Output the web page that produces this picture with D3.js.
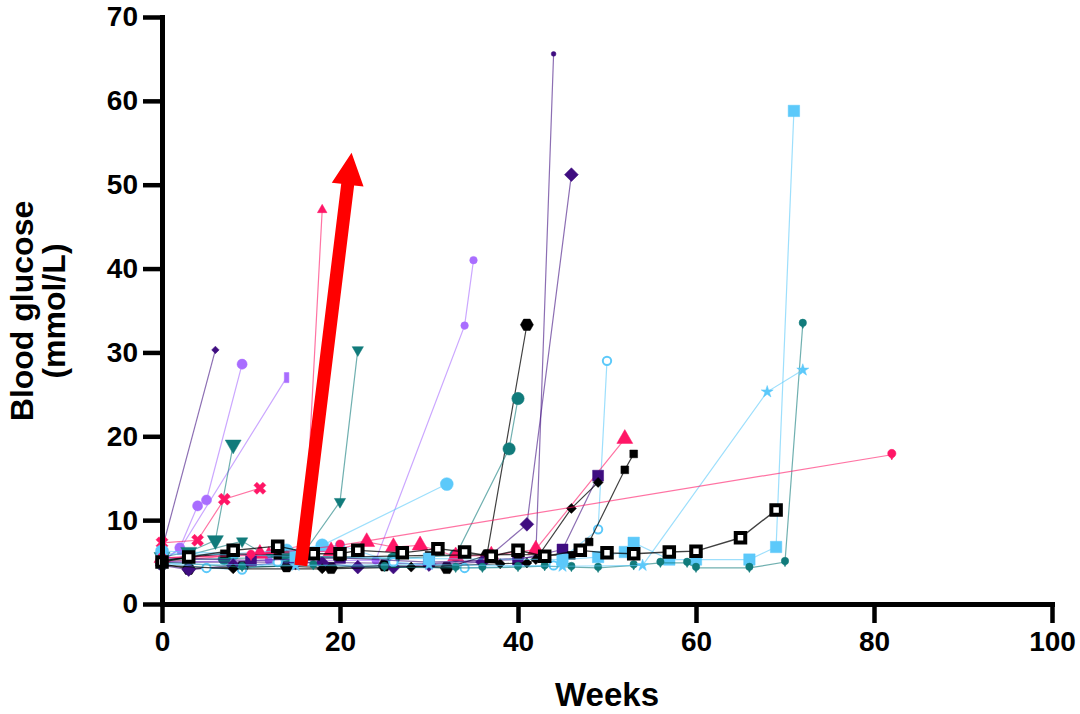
<!DOCTYPE html>
<html><head><meta charset="utf-8">
<script src="https://cdn.jsdelivr.net/npm/d3@7"></script>
<style>
body{margin:0;background:#fff}
svg{display:block}
text{font-family:"Liberation Sans",Arial,Helvetica,sans-serif;font-weight:bold;fill:#000}
</style>
</head><body>
<svg id="chart" width="1080" height="714"></svg>
<script>
// ---- axis ticks ----
const xTicks = [0, 20, 40, 60, 80, 100];
const yTicks = [0, 10, 20, 30, 40, 50, 60, 70];

// ---- series values: [week, blood glucose mmol/L] ----
const s01 = [[0,6.5],[6,30.3]];
const s02 = [[0,5.0],[2,6.7],[4,11.7],[5,12.4],[9,28.6]];
const s03 = [[0,5.2],[2,6.5],[14,27.0]];
const s04 = [[0,5.6],[3,6.2],[6,7.6],[8,19.0]];
const s05 = [[0,7.3],[4,7.6],[7,12.5],[11,13.8]];
const s06 = [[0,5.0],[8,5.8],[12,6.2],[16,7.0],[18,47.0]];
const s07 = [[0,5.0],[9,7.5],[12,5.6],[16,6.2],[20,12.2],[22,30.3]];
const s08 = [[0,5.0],[12,5.2],[24,5.2],[34,33.2],[35,41.0]];
const s09 = [[0,6.3],[8,6.0],[14,6.4],[18,7.0],[32,14.3]];
const s10 = [[0,4.8],[3,4.2],[9,4.4],[14,4.5],[19,4.3],[25,4.6],[32,4.3],[36.5,5.8],[41,33.3]];
const s11 = [[0,5.2],[7,5.4],[14,5.6],[26,5.4],[33,5.8],[39,18.5],[40,24.5]];
const s12 = [[0,5.0],[15,5.0],[30,4.8],[42,5.6],[44,65.6]];
const s13 = [[0,4.6],[3,4.1],[8,4.6],[15,4.9],[18,4.9],[22,4.4],[26,4.4],[30,4.7],[36,5.0],[41,9.5],[46,51.2]];
const s14 = [[0,4.9],[5,4.3],[9,4.1],[13,5.0],[20,7.0],[26,5.0],[34,4.3],[44,4.6],[49,8.9],[50,29.0]];
const s15 = [[0,5.5],[11,6.0],[19,6.3],[23,7.4],[26,6.8],[29,7.0],[33,5.7],[37,5.8],[42,6.5],[52,19.7]];
const s16 = [[0,5.5],[10,5.2],[20,5.5],[30,5.0],[40,5.3],[45,6.5],[49,15.3]];
const s17 = [[0,5.2],[7,6.0],[13,5.8],[20,5.6],[30,5.8],[40,5.9],[46,5.8],[48,7.4],[52,16.0],[53,17.9]];
const s18 = [[0,4.6],[8,4.2],[18,4.2],[28,4.4],[38,4.8],[41,4.9],[42,5.3],[46,11.4],[49,14.5]];
const s20 = [[0,6.0],[15,5.7],[30,5.4],[45,5.3],[49,5.6],[52,6.2],[53,7.3],[57,5.3],[60,5.3],[66,5.3],[69,6.8],[71,58.8]];
const s21 = [[0,5.0],[9,4.4],[17,4.6],[25,4.4],[33,4.3],[36,4.3],[40,4.4],[43,4.5],[46,4.4],[49,4.3],[53,4.6],[56,4.9],[59,4.9],[60,4.3],[66,4.3],[70,5.0],[72,33.4]];
const s22 = [[0,4.8],[15,4.6],[30,4.7],[45,4.5],[54,4.6],[68,25.3],[72,27.9]];
const s23 = [[0,5.5],[10,5.8],[20,7.0],[82,17.8]];
const s19 = [[0,5.0],[3,5.6],[8,6.4],[13,6.9],[17,6.0],[20,6.0],[22,6.4],[27,6.1],[31,6.6],[34,6.2],[37,5.7],[40,6.4],[43,5.7],[47,6.4],[50,6.1],[53,6.0],[57,6.2],[60,6.3],[65,7.9],[69,11.2]];

// red annotation arrow (week, mmol/L): tail and tip
const arrowTail = [15.6, 4.6];
const arrowTip  = [21.3, 53.8];

// ---- styles (kept separate from data) ----
const C = {dp:"#3f0d80", lp:"#a96dff", tl:"#117b7b", pk:"#ff1666", lb:"#5cc9fa", bk:"#000000"};
const seriesList = [
  {d:s01, c:C.dp, shape:"diamond", s:28},
  {d:s02, c:C.lp, shape:"circle", s:80},
  {d:s03, c:C.lp, shape:"bar", s:40},
  {d:s04, c:C.tl, shape:"invtri", s:110},
  {d:s05, c:C.pk, shape:"x", s:90},
  {d:s06, c:C.pk, shape:"triangle", s:40},
  {d:s07, c:C.tl, shape:"invtri", s:55},
  {d:s08, c:C.lp, shape:"circle", s:45},
  {d:s09, c:C.lb, shape:"circle", s:130},
  {d:s10, c:C.bk, shape:"hex", s:110},
  {d:s11, c:C.tl, shape:"circle", s:120},
  {d:s12, c:C.dp, shape:"circle", s:18},
  {d:s13, c:C.dp, shape:"diamond", s:95},
  {d:s14, c:C.lb, shape:"ocircle", s:55},
  {d:s15, c:C.pk, shape:"triangle", s:110},
  {d:s16, c:C.dp, shape:"square", s:120},
  {d:s17, c:C.bk, shape:"square", s:60},
  {d:s18, c:C.bk, shape:"diamond", s:50},
  {d:s20, c:C.lb, shape:"square", s:130},
  {d:s21, c:C.tl, shape:"pin", s:60},
  {d:s22, c:C.lb, shape:"star", s:45},
  {d:s23, c:C.pk, shape:"pin", s:75},
  {d:s19, c:C.bk, shape:"osquare", s:90}
];

const svg = d3.select("#chart");
const x = d3.scaleLinear().domain([0,100]).range([162,1052]);
const y = d3.scaleLinear().domain([0,70]).range([604,17]);

// custom symbol types
const hexSym = {draw(ctx, size){
  const r = Math.sqrt(size/(1.5*Math.sqrt(3)));
  for(let i=0;i<6;i++){const a=Math.PI/3*i; const px=r*Math.cos(a), py=r*Math.sin(a); i?ctx.lineTo(px,py):ctx.moveTo(px,py);}
  ctx.closePath();
}};
const pinSym = {draw(ctx, size){
  const r = Math.sqrt(size/Math.PI)*0.85;
  ctx.moveTo(r, -r*0.3);
  ctx.arc(0, -r*0.3, r, 0, 2*Math.PI);
  ctx.moveTo(-r*0.45, r*0.4);
  ctx.lineTo(r*0.45, r*0.4);
  ctx.lineTo(0, r*1.25);
  ctx.closePath();
}};
const barSym = {draw(ctx, size){
  const h = Math.sqrt(size)*1.6, w = h*0.45;
  ctx.rect(-w/2, -h/2, w, h);
}};

function symPath(shape, size){
  let t = d3.symbolCircle;
  if(shape==="square"||shape==="osquare"||shape==="diamond") t = d3.symbolSquare;
  else if(shape==="triangle"||shape==="invtri") t = d3.symbolTriangle;
  else if(shape==="x") t = d3.symbolCross;
  else if(shape==="star") t = d3.symbolStar;
  else if(shape==="hex") t = hexSym;
  else if(shape==="pin") t = pinSym;
  else if(shape==="bar") t = barSym;
  return d3.symbol().type(t).size(size)();
}
function symRot(shape){
  if(shape==="diamond"||shape==="x") return 45;
  if(shape==="invtri") return 180;
  return 0;
}

const line = d3.line().x(d=>x(d[0])).y(d=>y(d[1]));
const gData = svg.append("g");
seriesList.forEach(sr=>{
  const g = gData.append("g");
  g.append("path").attr("d", line(sr.d))
    .attr("fill","none").attr("stroke", sr.c)
    .attr("stroke-width", sr.shape==="osquare"?1.4:1.2)
    .attr("stroke-opacity", sr.c===C.bk?0.75:0.6);
  const p = symPath(sr.shape, sr.s);
  g.selectAll("path.m").data(sr.d).join("path").attr("class","m")
    .attr("d", p)
    .attr("transform", d=>`translate(${x(d[0])},${y(d[1])}) rotate(${symRot(sr.shape)})`)
    .attr("fill", sr.shape==="osquare"||sr.shape==="ocircle" ? "#fff" : sr.c)
    .attr("stroke", sr.c)
    .attr("stroke-width", sr.shape==="osquare"?4:(sr.shape==="ocircle"?2:0.5));
});

// red arrow annotation
(function(){
  const x0=x(arrowTail[0]), y0=y(arrowTail[1]), x1=x(arrowTip[0]), y1=y(arrowTip[1]);
  const dx=x1-x0, dy=y1-y0, L=Math.hypot(dx,dy), ux=dx/L, uy=dy/L, nx=-uy, ny=ux;
  const sw=6.5, hw=16, hl=32;
  const bx=x1-ux*hl, by=y1-uy*hl;
  const pts=[[x0+nx*sw,y0+ny*sw],[bx+nx*sw,by+ny*sw],[bx+nx*hw,by+ny*hw],[x1,y1],
             [bx-nx*hw,by-ny*hw],[bx-nx*sw,by-ny*sw],[x0-nx*sw,y0-ny*sw]];
  svg.append("polygon").attr("points", pts.map(p=>p.join(",")).join(" ")).attr("fill","#ff0000");
})();

// axes
const xAxis = d3.axisBottom(x).tickValues(xTicks).tickSize(19).tickSizeOuter(0).tickPadding(8);
const yAxis = d3.axisLeft(y).tickValues(yTicks).tickSize(19).tickSizeOuter(0).tickPadding(5);
const gx = svg.append("g").attr("transform","translate(0,604)").call(xAxis);
const gy = svg.append("g").attr("transform","translate(162,0)").call(yAxis);
[gx,gy].forEach(g=>{
  g.selectAll(".domain").attr("stroke","#000").attr("stroke-width",5).attr("stroke-linecap","square");
  g.selectAll(".tick line").attr("stroke","#000").attr("stroke-width",4.5);
  g.selectAll(".tick text").attr("font-size",28).attr("font-family","Liberation Sans, Arial, sans-serif").attr("font-weight","bold").attr("fill","#000");
});

// titles
svg.append("text").attr("x",607).attr("y",706).attr("text-anchor","middle").attr("font-size",33).text("Weeks");
const yt = svg.append("text").attr("transform","translate(0,311) rotate(-90)").attr("text-anchor","middle").attr("font-size",32);
yt.append("tspan").attr("x",0).attr("y",33).text("Blood glucose");
yt.append("tspan").attr("x",0).attr("y",65).text("(mmol/L)");
</script>
</body></html>
